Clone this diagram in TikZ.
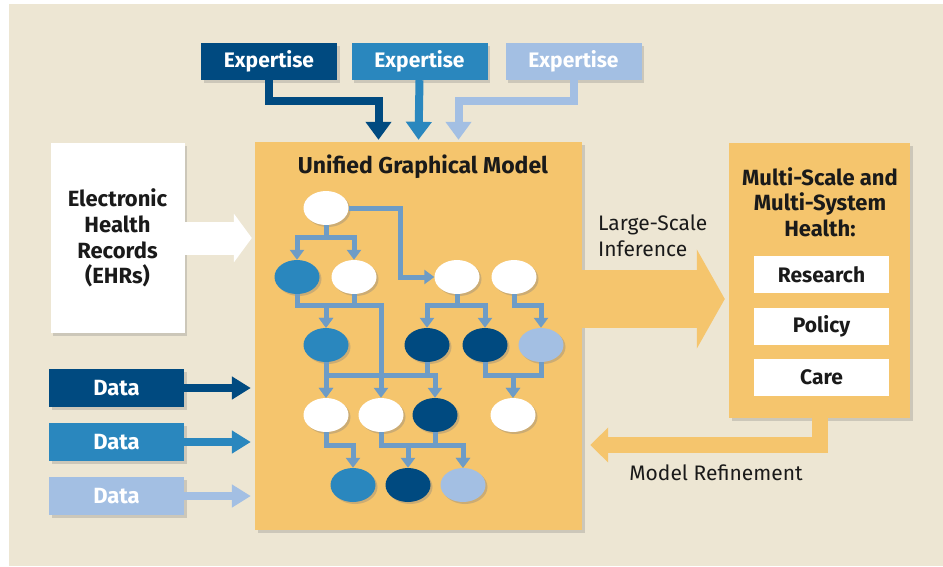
\documentclass[tikz,border=0pt]{standalone}
\usepackage{fontspec}
\setmainfont{Fira Sans}
\usetikzlibrary{arrows.meta,shapes.geometric,shadows}

\definecolor{bgbeige}{HTML}{EDE6D3}
\definecolor{ugmorange}{HTML}{F5C56D}
\definecolor{darkblue}{HTML}{004A80}
\definecolor{midblue}{HTML}{2A87BE}
\definecolor{lightblue}{HTML}{A3BFE3}
\definecolor{edgeblue}{HTML}{6E9CC6}
\definecolor{inkblack}{HTML}{1A1A1A}

\tikzset{
  shade box/.style={drop shadow={opacity=0.3,shadow xshift=2.5pt,shadow yshift=-2.5pt}},
  colbox/.style={fill=#1,text=white,font=\bfseries\fontsize{21}{21}\selectfont,
    minimum width=136pt,minimum height=37pt,inner sep=0pt,shade box},
  whitebox/.style={fill=white,text=inkblack,font=\bfseries\fontsize{21}{21}\selectfont,
    minimum width=135pt,minimum height=37pt,inner sep=0pt},
  gnode/.style={ellipse,fill=#1,minimum width=45pt,minimum height=34pt,inner sep=0pt,
    drop shadow={opacity=0.35,shadow xshift=2pt,shadow yshift=-2pt}},
  gedge/.style={edgeblue,line width=5pt,-{Triangle[width=14pt,length=10pt]}},
  exparrow/.style={#1,line width=8pt,-{Triangle[width=25pt,length=18pt]}},
  dataarrow/.style={#1,line width=8pt,-{Triangle[width=22pt,length=19pt]}},
  ehrarrow/.style={white,line width=33pt,-{Triangle[width=48pt,length=18pt]}},
  inferarrow/.style={ugmorange,line width=58pt,-{Triangle[width=98pt,length=28pt]}},
  refinearrow/.style={ugmorange,line width=16pt,-{Triangle[width=34pt,length=18pt]}},
  plaintext/.style={text=inkblack,font=\fontsize{21}{26}\selectfont,inner sep=0pt}
}

\begin{document}
\begin{tikzpicture}[x=1pt,y=-1pt]
\useasboundingbox (0,0) rectangle (943,566);
\fill[white] (0,0) rectangle (943,566);
\fill[bgbeige] (9,4) rectangle (943,566);

% expertise
\node[colbox=darkblue] (exp1) at (269,61.5) {Expertise};
\node[colbox=midblue] (exp2) at (419.5,61.5) {Expertise};
\node[colbox=lightblue] (exp3) at (573.5,61.5) {Expertise};

% the model
\node[fill=ugmorange,minimum width=327pt,minimum height=388pt,shade box] (ugm) at (418.5,336) {};
\node[text=inkblack,font=\bfseries\fontsize{23}{23}\selectfont] (ugmtitle) at (423,167) {Unified Graphical Model};

% inputs
\node[fill=white,minimum width=134pt,minimum height=190pt,shade box,align=center,
  text=inkblack,font=\bfseries\fontsize{22}{25.7}\selectfont] (ehr) at (117.5,238)
  {Electronic\\Health\\Records\\(EHRs)};
\node[colbox=darkblue,minimum width=135pt,minimum height=38pt,font=\bfseries\fontsize{22}{22}\selectfont] (data1) at (116.5,388) {Data};
\node[colbox=midblue,minimum width=135pt,minimum height=38pt,font=\bfseries\fontsize{22}{22}\selectfont] (data2) at (116.5,442) {Data};
\node[colbox=lightblue,minimum width=135pt,minimum height=38pt,font=\bfseries\fontsize{22}{22}\selectfont] (data3) at (116.5,496) {Data};

% health
\node[fill=ugmorange,minimum width=181pt,minimum height=275pt,shade box] (hlth) at (819.5,280.5) {};
\node[text=inkblack,align=center,font=\bfseries\fontsize{22}{25.5}\selectfont] (hlthtitle) at (820,202)
  {Multi-Scale and\\Multi-System\\Health:};
\node[whitebox] (research) at (821.5,274.5) {Research};
\node[whitebox] (policy) at (821.5,326.5) {Policy};
\node[whitebox] (care) at (821.5,377) {Care};

% arrows in
\draw[exparrow=darkblue] (exp1.south) -- ++(0,21) -| ([xshift=-40pt,yshift=2pt]ugm.north);
\draw[exparrow=midblue] (exp2.south) -- ([yshift=2pt]ugm.north);
\draw[exparrow=lightblue] (exp3.south) -- ++(0,21) -| ([xshift=40pt,yshift=2pt]ugm.north);
\draw[ehrarrow] (ehr.east) -- ([xshift=-3pt]ugm.west |- ehr.east);
\draw[dataarrow=darkblue] (data1.east) -- ([xshift=-4pt]ugm.west |- data1.east);
\draw[dataarrow=midblue] (data2.east) -- ([xshift=-4pt]ugm.west |- data2.east);
\draw[dataarrow=lightblue] (data3.east) -- ([xshift=-4pt]ugm.west |- data3.east);

% inference and refinement
\draw[inferarrow] ([yshift=37pt]ugm.east) -- ([xshift=-4pt,yshift=37pt]ugm.east -| hlth.west);
\draw[refinearrow] (hlth.south) |- ([xshift=8pt,yshift=-109pt]ugm.east);
\node[plaintext,anchor=west,align=left] (inflabel) at (598,236) {Large-Scale\\Inference};
\node[plaintext] (reflabel) at (716,473) {Model Refinement};

% graph
\node[gnode=white] (a) at (326,208) {};
\node[gnode=midblue] (b1) at (297,277) {};
\node[gnode=white] (b2) at (354,277) {};
\node[gnode=white] (b3) at (457,277) {};
\node[gnode=white] (b4) at (514,277) {};
\node[gnode=midblue] (c1) at (326,345) {};
\node[gnode=darkblue] (c2) at (427,345) {};
\node[gnode=darkblue] (c3) at (485,345) {};
\node[gnode=lightblue] (c4) at (541,345) {};
\node[gnode=white] (d1) at (326,415) {};
\node[gnode=white] (d2) at (381,415) {};
\node[gnode=darkblue] (d3) at (435,415) {};
\node[gnode=white] (d4) at (513,415) {};
\node[gnode=midblue] (e1) at (353,485) {};
\node[gnode=darkblue] (e2) at (408,485) {};
\node[gnode=lightblue] (e3) at (463,485) {};

\draw[gedge] (a.south) -- ++(0,12) -| (b1.north);
\draw[gedge] (a.south) -- ++(0,12) -| (b2.north);
\draw[gedge] (a.east) -- ++(52,0) |- (b3.west);
\draw[gedge] (b1.south) -- ++(0,11) -| (c1.north);
\draw[gedge] (b2.south) -- ++(0,11) -| (c1.north);
\draw[gedge] (b2.south) -- ++(0,11) -| (d2.north);
\draw[gedge] (b3.south) -- ++(0,11) -| (c2.north);
\draw[gedge] (b3.south) -- ++(0,11) -| (c3.north);
\draw[gedge] (b4.south) -- ++(0,11) -| (c4.north);
\draw[gedge] (c1.south) -- ++(0,13) -| (d1.north);
\draw[gedge] (c1.south) -- ++(0,13) -| (d3.north);
\draw[gedge] (c2.south) -- ++(0,13) -| (d1.north);
\draw[gedge] (c3.south) -- ++(0,13) -| (d4.north);
\draw[gedge] (c4.south) -- ++(0,13) -| (d4.north);
\draw[gedge] (d1.south) -- ++(0,13) -| (e1.north);
\draw[gedge] (d2.south) -- ++(0,13) -| (e2.north);
\draw[gedge] (d2.south) -- ++(0,13) -| (e3.north);
\draw[gedge] (d3.south) -- ++(0,13) -| (e3.north);
\end{tikzpicture}
\end{document}
